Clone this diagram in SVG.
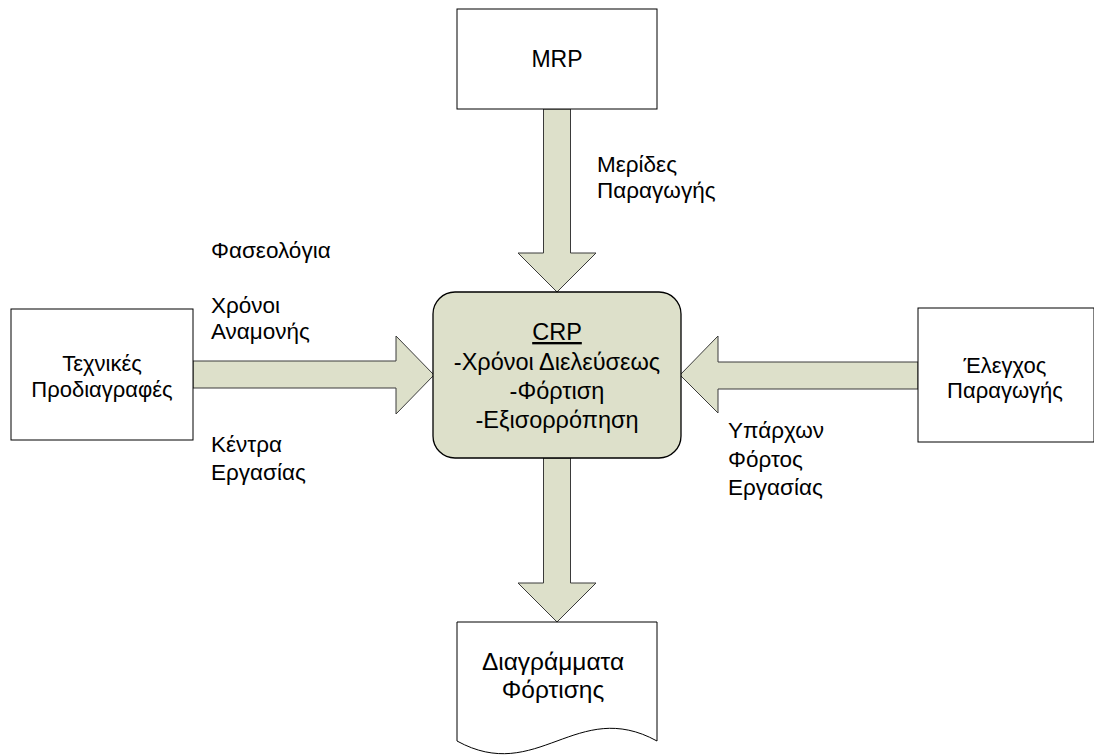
<svg xmlns="http://www.w3.org/2000/svg" width="1094" height="756" viewBox="0 0 1094 756">
<style>
.box{fill:#ffffff;stroke:#000000;stroke-width:1}
.arrow{fill:#dde0ca;stroke:#3a3a3a;stroke-width:1}
.crp{fill:#dde0ca;stroke:#000000;stroke-width:1.3}
text{font-family:"Liberation Sans",Arial,sans-serif;font-size:22px;fill:#000000}
.c{text-anchor:middle}
.big{font-size:23.5px}
.lbl{font-size:22.5px}
.doc{font-size:24.5px}
</style>
<rect width="1094" height="756" fill="#ffffff"/>
<g id="connectors">
<polygon class="arrow" points="543.5,109 570.5,109 570.5,253 596,253 557,292 518,253 543.5,253"/>
<polygon class="arrow" points="193,361 396,361 396,336 434,375 396,414 396,388 193,388"/>
<polygon class="arrow" points="918,362 718,362 718,336 680,375 718,413 718,389 918,389"/>
<polygon class="arrow" points="543.5,458 570.5,458 570.5,583 596,583 557,622 518,583 543.5,583"/>
</g>
<g id="mrp">
<rect class="box" x="457" y="9" width="200" height="100"/>
<text class="c" x="557" y="67" style="font-size:23px">MRP</text>
</g>
<g id="crp">
<rect class="crp" x="433" y="292" width="248" height="166" rx="22" ry="22"/>
<text class="c big" x="557" y="340" text-decoration="underline">CRP</text>
<text class="c big" x="557" y="370">-Χρόνοι Διελεύσεως</text>
<text class="c big" x="557" y="399">-Φόρτιση</text>
<text class="c big" x="557" y="428">-Εξισορρόπηση</text>
</g>
<g id="tech">
<rect class="box" x="11" y="309" width="182" height="131"/>
<text class="c" x="102" y="371">Τεχνικές</text>
<text class="c" x="102" y="397">Προδιαγραφές</text>
</g>
<g id="control">
<rect class="box" x="918" y="308" width="176" height="134"/>
<text class="c" x="1005" y="373">Έλεγχος</text>
<text class="c" x="1005" y="398">Παραγωγής</text>
</g>
<g id="charts">
<path class="box" d="M457,622 L657,622 L657,741 C577,697 537,785 457,741 Z"/>
<text class="c doc" x="553" y="670">Διαγράμματα</text>
<text class="c doc" x="553" y="698">Φόρτισης</text>
</g>
<g id="labels">
<text class="lbl" x="597" y="172">Μερίδες</text>
<text class="lbl" x="597" y="198">Παραγωγής</text>
<text class="lbl" x="211" y="258">Φασεολόγια</text>
<text class="lbl" x="211" y="313">Χρόνοι</text>
<text class="lbl" x="211" y="339">Αναμονής</text>
<text class="lbl" x="211" y="452">Κέντρα</text>
<text class="lbl" x="211" y="480">Εργασίας</text>
<text class="lbl" x="728" y="438">Υπάρχων</text>
<text class="lbl" x="728" y="467">Φόρτος</text>
<text class="lbl" x="728" y="495">Εργασίας</text>
</g>
</svg>
